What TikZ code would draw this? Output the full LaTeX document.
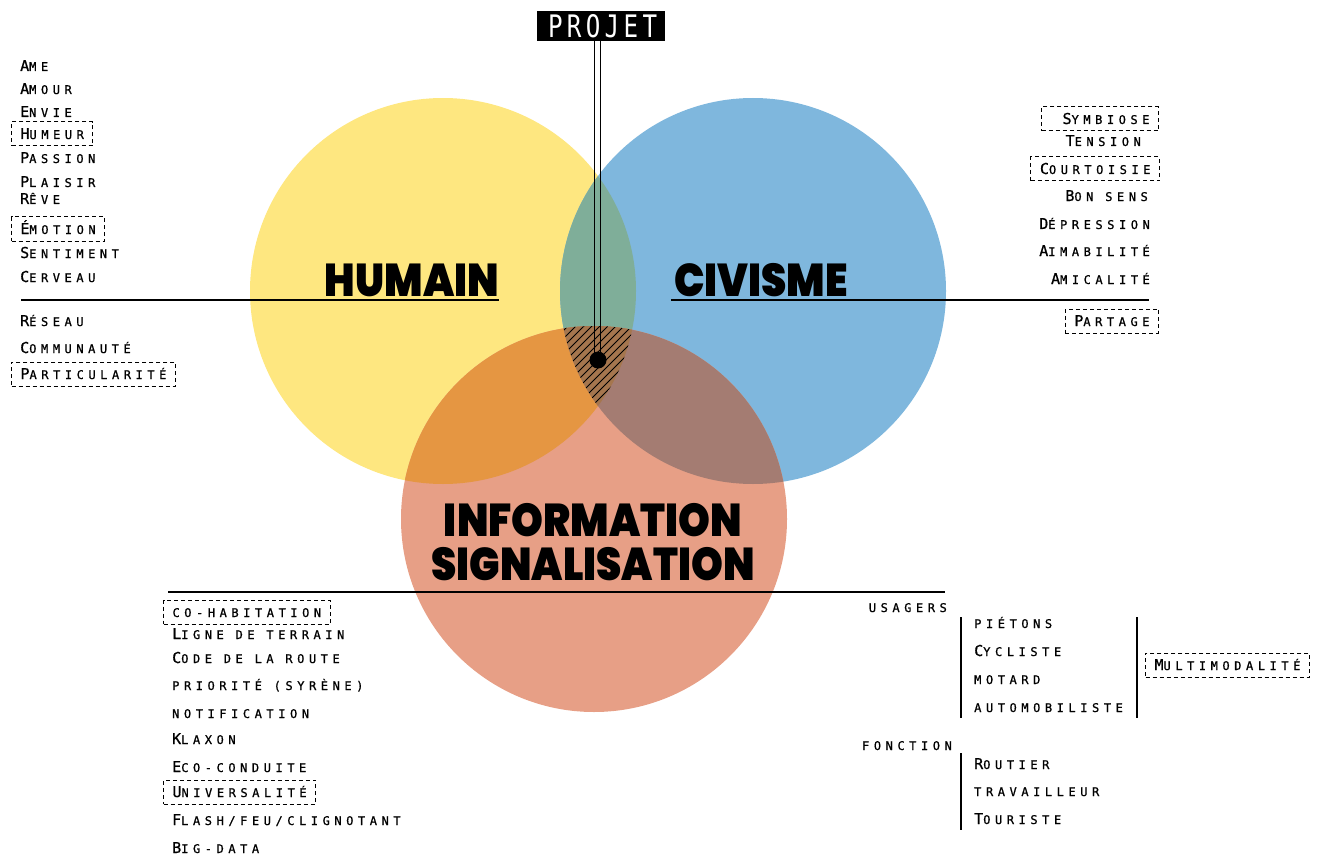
\documentclass[tikz,border=0pt]{standalone}
\usepackage{fontspec}
\usetikzlibrary{positioning}
\newfontfamily\wordfont{DejaVu Sans Mono}[LetterSpace=38, FakeBold=0.8]
\newfontfamily\projfont{DejaVu Sans Mono}[LetterSpace=18]
\newfontfamily\titlefont{Poppins Black}
\newcommand\sm[1]{{\fontsize{12pt}{13pt}\selectfont #1}}
\newcommand\ttl[1]{\scalebox{0.88}[1]{#1}}
\definecolor{yellow_set}{HTML}{FEE780}
\definecolor{blue_set}{HTML}{7FB7DD}
\definecolor{salmon_set}{HTML}{E79F86}
\definecolor{green_set}{HTML}{7FAE99}
\definecolor{orange_set}{HTML}{E59642}
\definecolor{brown_set}{HTML}{A47C72}
\definecolor{core_set}{HTML}{A5764E}

\begin{document}
\begin{tikzpicture}[x=1pt, y=-1pt,
                    word/.style={anchor=base west, inner xsep=9pt, inner ysep=7pt, text height=10pt, text depth=0pt,
                                 font=\wordfont\fontsize{15pt}{16pt}\selectfont},
                    wordr/.style={word, anchor=base east},
                    boxed/.style={draw, line width=1pt, dash pattern=on 4pt off 3pt},
                    title/.style={anchor=base, inner sep=0pt, font=\titlefont\fontsize{46pt}{46pt}\selectfont},
                    rule/.style={line width=1.2pt}]

  \useasboundingbox (0,0) rectangle (1322,861);

  % Three sets
  \coordinate (hum) at (443,291);
  \coordinate (civ) at (753,291);
  \coordinate (inf) at (594,519);
  \fill[yellow_set] (hum) circle[radius=193];
  \fill[blue_set] (civ) circle[radius=193];
  \fill[salmon_set] (inf) circle[radius=193];
  \begin{scope}
    \clip (hum) circle[radius=193];
    \fill[green_set] (civ) circle[radius=193];
    \fill[orange_set] (inf) circle[radius=193];
  \end{scope}
  \begin{scope}
    \clip (civ) circle[radius=193];
    \fill[brown_set] (inf) circle[radius=193];
  \end{scope}
  \begin{scope}
    \clip (hum) circle[radius=193];
    \clip (civ) circle[radius=193];
    \clip (inf) circle[radius=193];
    \fill[core_set] (inf) circle[radius=193];
    \foreach \c in {870,878,...,1062}
      \draw[line width=0.8pt] ({\c-300},300) -- ({\c-450},450);
  \end{scope}

  % Titles
  \node[title] (humain) at (412,296) {\ttl{HUMAIN}};
  \node[title] (civisme) at (761,296) {\ttl{CIVISME}};
  \node[title] (information) at (593,536) {\ttl{INFORMATION}};
  \node[title] (signalisation) at (593,580) {\ttl{SIGNALISATION}};

  \draw[rule] (21,300) -- (499,300);
  \draw[rule] (671,300) -- (1149,300);
  \draw[rule] (168,592) -- (945,592);

  % Projet
  \node[fill=black, text=white, minimum width=128pt, minimum height=30pt, inner sep=0pt,
        font=\projfont\fontsize{31pt}{32pt}\selectfont] (projet) at (601,26) {\scalebox{0.78}[1]{\hspace*{4pt}PROJET}};
  \node[circle, fill=black, minimum size=17pt, inner sep=0pt] (dot) at (598,360) {};
  \draw[line width=1pt] ([xshift=-4pt]dot.center) -- ([xshift=-4pt]dot.center |- projet.south);
  \draw[line width=1pt] ([xshift=2pt]dot.center) -- ([xshift=2pt]dot.center |- projet.south);

  % Humain words
  \node[word] (ame) at (11,71) {A\sm{ME}};
  \node[word] (amour) at (11,94) {A\sm{MOUR}};
  \node[word] (envie) at (11,117) {E\sm{NVIE}};
  \node[word, boxed] (humeur) at (11,139) {H\sm{UMEUR}};
  \node[word] (passion) at (11,163) {P\sm{ASSION}};
  \node[word] (plaisir) at (11,187) {P\sm{LAISIR}};
  \node[word] (reve) at (11,204) {R\sm{ÊVE}};
  \node[word, boxed] (emotion) at (11,234) {É\sm{MOTION}};
  \node[word] (sentiment) at (11,258) {S\sm{ENTIMENT}};
  \node[word] (cerveau) at (11,282) {C\sm{ERVEAU}};
  \node[word] (reseau) at (11,326) {R\sm{ÉSEAU}};
  \node[word] (communaute) at (11,353) {C\sm{OMMUNAUTÉ}};
  \node[word, boxed] (particularite) at (11,379) {P\sm{ARTICULARITÉ}};

  % Civisme words
  \node[wordr, boxed] (symbiose) at (1159,124) {\hspace*{12pt}S\sm{YMBIOSE}};
  \node[wordr] (tension) at (1150,146) {T\sm{ENSION}};
  \node[wordr, boxed] (courtoisie) at (1160,174) {C\sm{OURTOISIE}};
  \node[wordr] (bonsens) at (1157,201) {B\sm{ON SENS}};
  \node[wordr] (depression) at (1159,229) {D\sm{ÉPRESSION}};
  \node[wordr] (aimabilite) at (1159,256) {A\sm{IMABILITÉ}};
  \node[wordr] (amicalite) at (1159,284) {A\sm{MICALITÉ}};
  \node[wordr, boxed] (partage) at (1159,326) {P\sm{ARTAGE}};

  % Information words
  \node[word, boxed] (cohabitation) at (163,617) {\sm{CO-HABITATION}};
  \node[word] (ligne) at (163,639) {L\sm{IGNE DE TERRAIN}};
  \node[word] (code) at (163,663) {C\sm{ODE DE LA ROUTE}};
  \node[word] (priorite) at (163,690) {\sm{PRIORITÉ (SYRÈNE)}};
  \node[word] (notification) at (163,718) {\sm{NOTIFICATION}};
  \node[word] (klaxon) at (163,744) {K\sm{LAXON}};
  \node[word] (ecoconduite) at (163,772) {E\sm{CO-CONDUITE}};
  \node[word, boxed] (universalite) at (163,797) {U\sm{NIVERSALITÉ}};
  \node[word] (flash) at (163,825) {F\sm{LASH/FEU/CLIGNOTANT}};
  \node[word] (bigdata) at (163,853) {B\sm{IG-DATA}};

  % Usagers / fonction
  \node[wordr] (usagers) at (956,612) {\sm{USAGERS}};
  \node[word] (pietons) at (965,628) {\sm{PIÉTONS}};
  \node[word] (cycliste) at (965,656) {C\sm{YCLISTE}};
  \node[word] (motard) at (965,684) {\sm{MOTARD}};
  \node[word] (automobiliste) at (965,712) {\sm{AUTOMOBILISTE}};
  \node[word, boxed] (multimodalite) at (1145,670) {M\sm{ULTIMODALITÉ}};
  \node[wordr] (fonction) at (961,750) {\sm{FONCTION}};
  \node[word] (routier) at (965,769) {R\sm{OUTIER}};
  \node[word] (travailleur) at (965,796) {\sm{TRAVAILLEUR}};
  \node[word] (touriste) at (965,824) {T\sm{OURISTE}};

  \draw[rule] (961,617) -- (961,718);
  \draw[rule] (1137,617) -- (1137,718);
  \draw[rule] (961,753) -- (961,830);

\end{tikzpicture}
\end{document}
